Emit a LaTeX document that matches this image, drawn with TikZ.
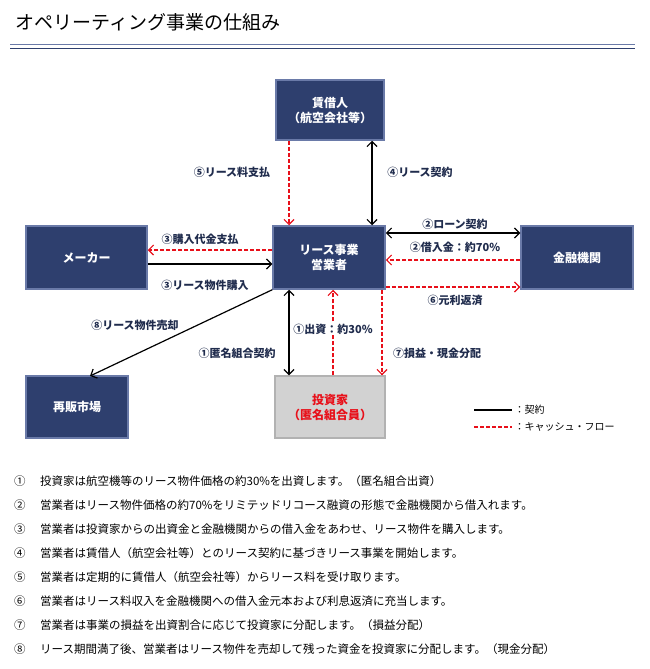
\documentclass[tikz,border=0pt]{standalone}
\usepackage{fontspec}
\setmainfont{Noto Sans CJK JP}
\usetikzlibrary{arrows.meta,positioning}
\definecolor{navy}{HTML}{2E3F6E}
\definecolor{navyedge}{HTML}{6A7AA8}
\definecolor{cashred}{HTML}{E8101A}
\tikzset{
  box/.style={rectangle, draw=navyedge, line width=1.5pt, fill=navy, text=white,
    font=\bfseries\fontsize{12}{15}\selectfont, align=center, inner sep=0pt},
  invbox/.style={box, fill=gray!35, draw=gray!60, text=cashred},
  contract/.style={black, line width=1.2pt, -{Straight Barb[length=5pt]}},
  both/.style={contract, {Straight Barb[length=5pt]}-{Straight Barb[length=5pt]}},
  cash/.style={cashred, line width=1.2pt, dash pattern=on 4pt off 2pt, -{Straight Barb[length=5pt]}},
  lbl/.style={font=\bfseries\fontsize{11}{13}\selectfont, text=navy!70!black},
  item/.style={font=\fontsize{11.5}{13}\selectfont, anchor=west, inner sep=0pt}
}
\begin{document}
\begin{tikzpicture}[x=1pt, y=-1pt]
\useasboundingbox (0,0) rectangle (650,669);

% Title
\node[anchor=west, font=\fontsize{19}{22}\selectfont] (title) at (12,22) {オペリーティング事業の仕組み};
\draw[navyedge, line width=1pt] (10,45) -- (635,45);
\draw[navy, line width=0.6pt] (10,48) -- (635,48);

% Boxes
\node[box, minimum width=108pt, minimum height=60pt] (lessee) at (330,110) {賃借人\\（航空会社等）};
\node[box, minimum width=121pt, minimum height=63pt] (maker) at (86.5,257.5) {メーカー};
\node[box, minimum width=112pt, minimum height=63pt] (op) at (329,257.5) {リース事業\\営業者};
\node[box, minimum width=112pt, minimum height=63pt] (bank) at (577,257.5) {金融機関};
\node[box, minimum width=102pt, minimum height=62pt] (resale) at (77,407) {再販市場};
\node[invbox, minimum width=110pt, minimum height=62pt] (inv) at (330,407) {投資家\\（匿名組合員）};

% Lessee <-> operator
\draw[cash] (lessee.south -| 289,0) -- (op.north -| 289,0);
\node[lbl] (l5) at (232,172) {⑤リース料支払};
\draw[both] (lessee.south -| 372,0) -- (op.north -| 372,0);
\node[lbl] (l4) at (420,172) {④リース契約};

% Operator <-> bank
\draw[both] (op.east |- 0,233) -- (bank.west |- 0,233);
\node[lbl] (l2a) at (455,224) {②ローン契約};
\draw[cash] (bank.west |- 0,260) -- (op.east |- 0,260);
\node[lbl] (l2b) at (455,247) {②借入金：約70\%};
\draw[cash] (op.east |- 0,287) -- (bank.west |- 0,287);
\node[lbl] (l6) at (455,300) {⑥元利返済};

% Operator <-> maker
\draw[cash] (op.west |- 0,250) -- (maker.east |- 0,250);
\node[lbl] (l3a) at (200,239) {③購入代金支払};
\draw[contract] (maker.east |- 0,264) -- (op.west |- 0,264);
\node[lbl] (l3b) at (205,285) {③リース物件購入};

% Resale
\draw[contract] (op.south west) -- (90,376);
\node[lbl] (l8) at (135,325) {⑧リース物件売却};

% Investor
\draw[both] (op.south -| 289,0) -- (inv.north -| 289,0);
\node[lbl] (l1a) at (237,353) {①匿名組合契約};
\draw[cash] (inv.north -| 333,0) -- (op.south -| 333,0);
\node[lbl, fill=white, inner sep=1pt] (l1b) at (333,329) {①出資：約30\%};
\draw[cash] (op.south -| 382,0) -- (inv.north -| 382,0);
\node[lbl] (l7) at (437,353) {⑦損益・現金分配};

% Legend
\coordinate (k1) at (474,410);
\coordinate (k2) at (474,427);
\draw[black, line width=1.2pt] (k1) -- ++(38,0) node[right, font=\fontsize{10}{12}\selectfont, text=black, inner sep=2pt] (lk1) {：契約};
\draw[cashred, line width=1.2pt, dash pattern=on 4pt off 2pt] (k2) -- ++(38,0) node[right, font=\fontsize{10}{12}\selectfont, text=black, inner sep=2pt] (lk2) {：キャッシュ・フロー};

% Notes
\foreach \n/\t [count=\i] in {
  ①/投資家は航空機等のリース物件価格の約30\%を出資します。（匿名組合出資）,
  ②/営業者はリース物件価格の約70\%をリミテッドリコース融資の形態で金融機関から借入れます。,
  ③/営業者は投資家からの出資金と金融機関からの借入金をあわせ、リース物件を購入します。,
  ④/営業者は賃借人（航空会社等）とのリース契約に基づきリース事業を開始します。,
  ⑤/営業者は定期的に賃借人（航空会社等）からリース料を受け取ります。,
  ⑥/営業者はリース料収入を金融機関への借入金元本および利息返済に充当します。,
  ⑦/営業者は事業の損益を出資割合に応じて投資家に分配します。（損益分配）,
  ⑧/リース期間満了後、営業者はリース物件を売却して残った資金を投資家に分配します。（現金分配）} {
  \node[item] (n\i) at (14,{457+24*\i}) {\n};
  \node[item] (t\i) at (40,{457+24*\i}) {\t};
}
\end{tikzpicture}
\end{document}
